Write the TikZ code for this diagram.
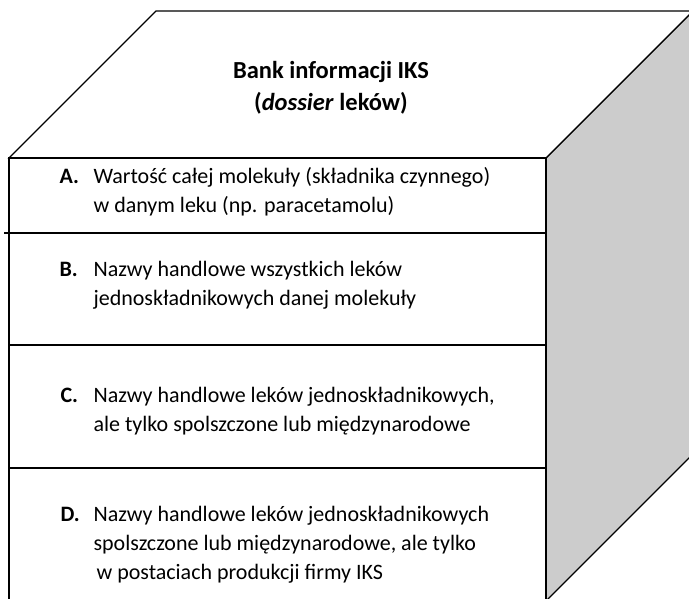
\documentclass[tikz,border=0pt]{standalone}
\usepackage{fontspec}
\setmainfont{Carlito}
\definecolor{sidegray}{HTML}{CCCCCC}
\newcommand{\rowtext}[1]{\begin{tabular}[t]{@{}l@{}}#1\end{tabular}}
\begin{document}
\begin{tikzpicture}[x=1pt, y=-1pt, line width=1.1pt,
	itemlabel/.style={anchor=base west, inner sep=0pt, font=\bfseries\fontsize{22}{29}\selectfont},
	itemtext/.style={anchor=base west, inner sep=0pt, font=\fontsize{22}{29}\selectfont},
	titletext/.style={font=\bfseries\fontsize{24.5}{31}\selectfont}]
	\useasboundingbox (0,0) rectangle (689,598);
	\clip (0,0) rectangle (689,598);
	% side and top of the box
	\draw[fill=sidegray] (546,158) -- (693,11) -- (693,454) -- (546,601) -- cycle;
	\draw[fill=white] (9,158) -- (156,11) -- (693,11) -- (546,158) -- cycle;
	% front with its four rows
	\draw (9,158) rectangle (546,601);
	\draw (4,233) -- (546,233);
	\draw (9,345) -- (546,345);
	\draw (9,468) -- (546,468);
	\node[titletext] (title) at (331,72) {Bank informacji IKS};
	\node[titletext] (subtitle) at (331,103) {(\textit{dossier} leków)};
	\node[itemlabel] (labA) at (59,183) {A.};
	\node[itemtext] (txtA) at (93,183) {\rowtext{Wartość całej molekuły (składnika czynnego)\\w danym leku (np. paracetamolu)}};
	\node[itemlabel] (labB) at (59,276) {B.};
	\node[itemtext] (txtB) at (93,276) {\rowtext{Nazwy handlowe wszystkich leków\\jednoskładnikowych danej molekuły}};
	\node[itemlabel] (labC) at (60,402) {C.};
	\node[itemtext] (txtC) at (93,402) {\rowtext{Nazwy handlowe leków jednoskładnikowych,\\ale tylko spolszczone lub międzynarodowe}};
	\node[itemlabel] (labD) at (60,521) {D.};
	\node[itemtext] (txtD) at (93,521) {\rowtext{Nazwy handlowe leków jednoskładnikowych\\spolszczone lub międzynarodowe, ale tylko\\\hspace{3pt}w postaciach produkcji firmy IKS}};
\end{tikzpicture}
\end{document}
